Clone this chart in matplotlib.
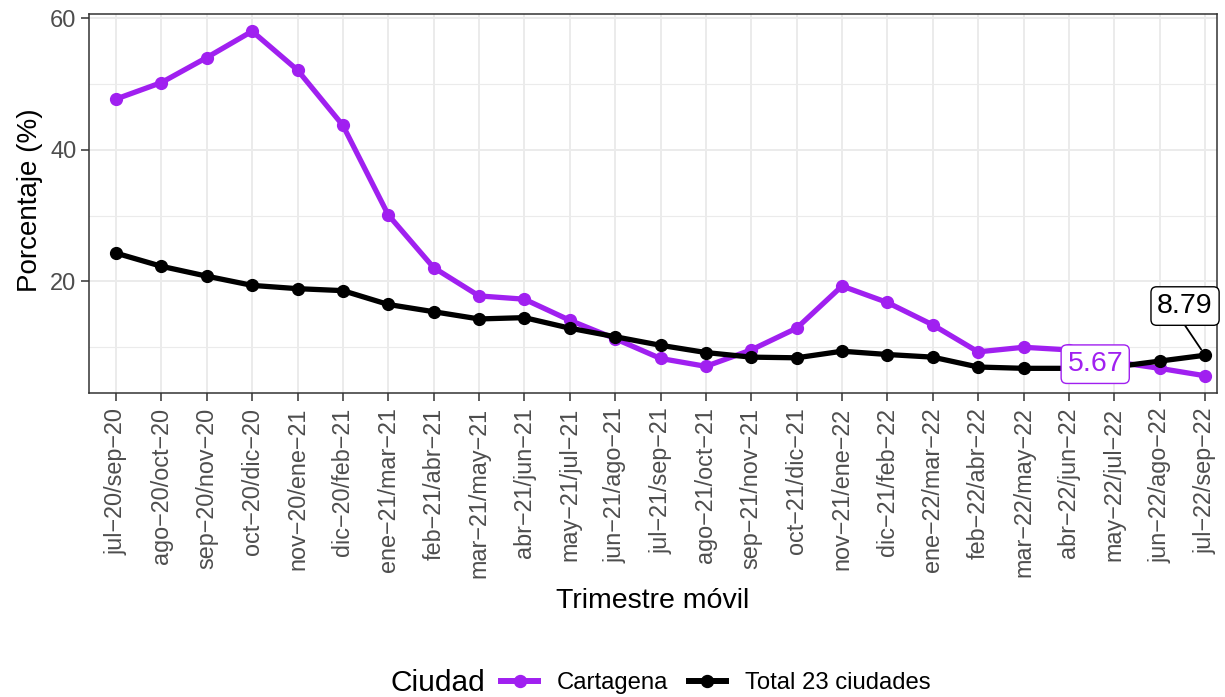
import matplotlib
matplotlib.use("Agg")
import matplotlib.pyplot as plt
from matplotlib.lines import Line2D

plt.rcParams['font.family'] = ['Liberation Sans', 'DejaVu Sans']

periodos = ["jul−20/sep−20", "ago−20/oct−20", "sep−20/nov−20", "oct−20/dic−20",
            "nov−20/ene−21", "dic−20/feb−21", "ene−21/mar−21", "feb−21/abr−21",
            "mar−21/may−21", "abr−21/jun−21", "may−21/jul−21", "jun−21/ago−21",
            "jul−21/sep−21", "ago−21/oct−21", "sep−21/nov−21", "oct−21/dic−21",
            "nov−21/ene−22", "dic−21/feb−22", "ene−22/mar−22", "feb−22/abr−22",
            "mar−22/may−22", "abr−22/jun−22", "may−22/jul−22", "jun−22/ago−22",
            "jul−22/sep−22"]

cartagena = [47.7, 50.2, 54.0, 58.0, 52.1, 43.7, 30.1, 22.1, 17.8, 17.3,
             14.1, 11.3, 8.3, 7.1, 9.6, 12.9, 19.3, 16.8, 13.4, 9.3,
             10.0, 9.6, 7.8, 6.8, 5.67]
total23 = [24.3, 22.3, 20.8, 19.4, 18.9, 18.6, 16.5, 15.4, 14.3, 14.5,
           12.9, 11.6, 10.3, 9.2, 8.5, 8.4, 9.4, 8.9, 8.5, 7.0,
           6.8, 6.8, 7.0, 7.9, 8.79]

series_names = ["Cartagena", "Total 23 ciudades"]
colors = ["#A020F0", "#000000"]

W, H = 1225, 697
fig = plt.figure(figsize=(W / 100, H / 100), dpi=100)
ax = fig.add_axes([89 / W, 1 - 393 / H, (1217 - 89) / W, (393 - 14) / H])

x = list(range(len(periodos)))
for vals, c in zip([cartagena, total23], colors):
    ax.plot(x, vals, color=c, lw=3.8, marker='o', ms=8.5, zorder=3,
            solid_capstyle='round', solid_joinstyle='round')

ymin = min(cartagena + total23)
ymax = max(cartagena + total23)
rng = ymax - ymin
ax.set_ylim(ymin - 0.05 * rng, ymax + 0.05 * rng)
ax.set_xlim(-0.595, len(periodos) - 1 + 0.264)

ax.set_yticks([20, 40, 60])
ax.set_yticks([10, 30, 50], minor=True)
ax.set_xticks(x)
ax.set_xticklabels(periodos, rotation=90, fontsize=16.8, color='#4D4D4D')
ax.tick_params(axis='y', labelsize=17, labelcolor='#4D4D4D', pad=3.5)
ax.tick_params(axis='x', pad=5)
ax.tick_params(axis='both', which='major', length=5.5, width=1.1, color='#333333')
ax.tick_params(axis='y', which='minor', length=0)
ax.grid(True, which='major', color='#EBEBEB', lw=1.4, zorder=0)
ax.grid(True, which='minor', axis='y', color='#EBEBEB', lw=0.8, zorder=0)
ax.set_axisbelow(True)
for s in ax.spines.values():
    s.set_color('#333333')
    s.set_linewidth(1.1)

ax.set_xlabel("Trimestre móvil", fontsize=20.5)
ax.xaxis.set_label_coords(0.5, (393 - 588) / 379)
ax.set_ylabel("Porcentaje (%)", fontsize=20)
ax.yaxis.set_label_coords((43 - 89) / 1128, 0.51)

# value labels (ggrepel style)
lab_c = (21.58, 7.43)
lab_t = (23.56, 16.26)
ax.text(*lab_c, f"{cartagena[-1]:.2f}", ha='center', va='center', fontsize=20.5,
        color=colors[0], zorder=6,
        bbox=dict(boxstyle='round,pad=0.22,rounding_size=0.2', fc='white', ec=colors[0], lw=1))
ax.text(*lab_t, f"{total23[-1]:.2f}", ha='center', va='center', fontsize=20.5,
        color='black', zorder=6,
        bbox=dict(boxstyle='round,pad=0.22,rounding_size=0.2', fc='white', ec='black', lw=1))
# leader segment from bottom-middle of the 8.79 box to its point
ax.annotate("", xy=(x[-1], total23[-1]), xytext=(lab_t[0], 13.3),
            arrowprops=dict(arrowstyle='-', color='black', lw=1.3, shrinkA=0, shrinkB=5),
            zorder=5)

# legend
ly = 1 - 683 / H
fig.text(390 / W, ly, "Ciudad", fontsize=21.5, ha='left', va='center')
handles = [Line2D([], [], color=c, lw=4.3, marker='o', ms=8.6) for c in colors]
fig.legend(handles, series_names, loc='center left', bbox_to_anchor=(501 / W, ly),
           ncol=2, frameon=False, fontsize=17.2, handlelength=1.55, handletextpad=0.8,
           columnspacing=0.84, borderpad=0, borderaxespad=0)

fig.savefig("out.png", dpi=100)
